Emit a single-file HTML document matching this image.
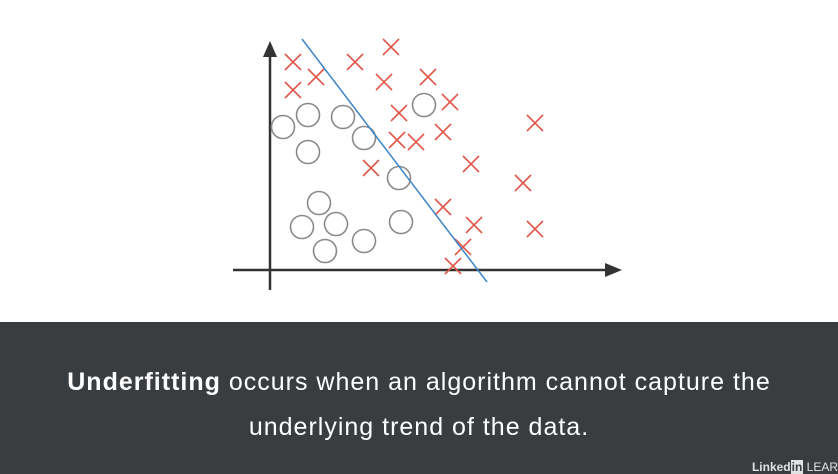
<!DOCTYPE html>
<html><head><meta charset="utf-8"><style>
html,body{margin:0;padding:0;width:838px;height:474px;overflow:hidden;background:#fff;font-family:"Liberation Sans",sans-serif}
#band{position:absolute;left:0;top:322px;width:838px;height:152px;background:#3a3d40}
.cap{position:absolute;left:0;width:838px;text-align:center;color:#fff;font-size:25px;letter-spacing:1px}
#logo{position:absolute;right:0;bottom:0;color:#fff;font-size:12px;font-weight:bold;opacity:.85}
</style></head><body>
<svg id="chart" width="838" height="322" style="position:absolute;left:0;top:0"></svg>
<div id="band">
<div class="cap" style="top:46px"><b>Underfitting</b> occurs when an algorithm cannot capture the</div>
<div class="cap" style="top:91px">underlying trend of the data.</div>
<div id="logo">Linked<span style="background:#fff;color:#3a3d40;padding:0 1px">in</span> <span style="font-weight:normal">LEAR</span></div>
</div>
<script>
const crossX=[2.3,4.6,2.3,8.5,12.1,11.4,15.8,18,12.9,26.5,17.3,12.7,14.6,10.1,20.1,25.3,17.3,20.4,26.5,19.3,18.3];
const crossY=[20.8,19.3,18,20.8,22.3,18.8,19.3,16.8,15.7,14.7,13.8,13,12.8,10.2,10.6,8.7,6.3,4.5,4.1,2.3,0.4];
const circX=[1.3,3.8,7.3,9.4,15.4,3.8,12.9,4.9,3.2,6.6,13.1,9.4,5.5];
const circY=[14.3,15.5,15.3,13.2,16.5,11.8,9.2,6.7,4.3,4.6,4.8,2.9,1.9];
const fitLine=[[3.2,23.1],[21.7,-1.2]];
const ox=270,oy=270,k=10;
const sx=v=>ox+v*k, sy=v=>oy-v*k;
const svg=document.getElementById('chart');
const NS='http://www.w3.org/2000/svg';
function mk(t,a){const e=document.createElementNS(NS,t);for(const n in a)e.setAttribute(n,a[n]);svg.appendChild(e);return e;}
let e=mk('line',{x1:233,y1:270,x2:608,y2:270,stroke:'#333','stroke-width':2.5});

e=mk('polygon',{points:'622,270 605,263 605,277',fill:'#333'});

e=mk('line',{x1:270,y1:290,x2:270,y2:54,stroke:'#333','stroke-width':2.5});

e=mk('polygon',{points:'270,41 263,57 277,57',fill:'#333'});

circX.forEach((x,i)=>{const c=mk('circle',{cx:sx(x),cy:sy(circY[i]),r:11.5,fill:'none',stroke:'#8a8a8a','stroke-width':1.6});

});
crossX.forEach((x,i)=>{const cx=sx(x),cy=sy(crossY[i]),d=8;
const p=mk('path',{d:`M${cx-d} ${cy-d}L${cx+d} ${cy+d}M${cx+d} ${cy-d}L${cx-d} ${cy+d}`,stroke:'#e0584a','stroke-width':1.6,fill:'none'});

});
e=mk('line',{x1:sx(fitLine[0][0]),y1:sy(fitLine[0][1]),x2:sx(fitLine[1][0]),y2:sy(fitLine[1][1]),stroke:'#3d85c6','stroke-width':1.5});

</script>
</body></html>
